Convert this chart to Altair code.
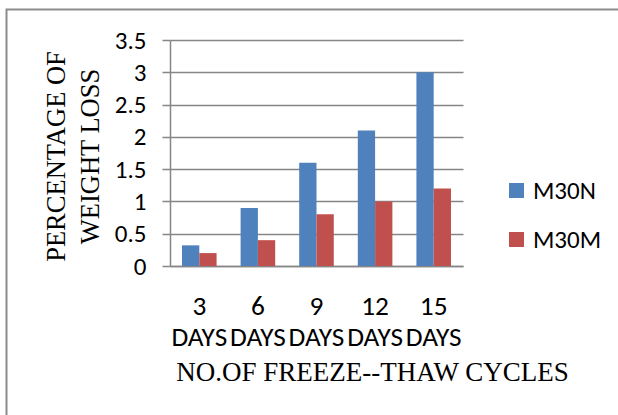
import altair as alt
import pandas as pd

# Freeze-thaw weight loss for two concrete mixes
cycles = ["3", "6", "9", "12", "15"]
m30n = [0.32, 0.9, 1.6, 2.1, 3.0]
m30m = [0.2, 0.4, 0.8, 1.0, 1.2]
series = ["M30N", "M30M"]
y_ticks = [0, 0.5, 1, 1.5, 2, 2.5, 3, 3.5]

rows = []
for i, c in enumerate(cycles):
    rows.append({"cycle": c, "mix": series[0], "loss": m30n[i]})
    rows.append({"cycle": c, "mix": series[1], "loss": m30m[i]})
df = pd.DataFrame(rows)

SANS = "Carlito, Lato, sans-serif"
SERIF = "Liberation Serif, Times New Roman, serif"
GRAY = "#868686"

bars = alt.Chart(df).mark_bar().encode(
    x=alt.X(
        "cycle:N",
        sort=cycles,
        scale=alt.Scale(paddingInner=0.41, paddingOuter=0.205),
        axis=alt.Axis(
            title="NO.OF FREEZE--THAW CYCLES",
            titleFont=SERIF,
            titleFontSize=27,
            titleFontWeight="normal",
            titleColor="#000000",
            titleX=202,
            titleY=114,
            titleAlign="center",
            titleBaseline="alphabetic",
            labelExpr="[datum.label, 'DAYS']",
            labelFont=SANS,
            labelFontSize=27.3,
            labelColor="#000000",
            labelLineHeight=31,
            labelAngle=0,
            labelPadding=26,
            labelOverlap=False,
            ticks=False,
            domain=True,
            domainColor=GRAY,
            domainWidth=1.5,
        ),
    ),
    xOffset=alt.XOffset("mix:N", sort=series),
    y=alt.Y(
        "loss:Q",
        scale=alt.Scale(domain=[0, 3.5], nice=False),
        axis=alt.Axis(
            title=["PERCENTAGE OF", "WEIGHT LOSS"],
            titleFont=SERIF,
            titleFontSize=26.5,
            titleFontWeight="normal",
            titleColor="#000000",
            titleLineHeight=34,
            titleAngle=-90,
            titleX=-106,
            titleY=116,
            titleAlign="center",
            titleBaseline="alphabetic",
            values=y_ticks,
            labelExpr="format(datum.value, '~g')",
            labelFont=SANS,
            labelFontSize=25,
            labelColor="#000000",
            labelPadding=16,
            tickSize=8,
            tickColor=GRAY,
            tickWidth=1.5,
            grid=True,
            gridColor=GRAY,
            gridWidth=1.5,
            domain=True,
            domainColor=GRAY,
            domainWidth=1.5,
        ),
    ),
    color=alt.Color(
        "mix:N",
        sort=series,
        scale=alt.Scale(domain=series, range=["#4F81BD", "#C0504D"]),
        legend=alt.Legend(
            title=None,
            orient="none",
            legendX=334,
            legendY=138,
            symbolType="square",
            symbolSize=225,
            symbolStrokeWidth=0,
            labelFont=SANS,
            labelFontSize=25,
            labelColor="#000000",
            labelOffset=4,
            rowPadding=23,
        ),
    ),
)

frame = alt.Chart(pd.DataFrame({"k": [0]})).mark_rect(
    fill="transparent", stroke="#8c8c8c", strokeWidth=2
).encode(
    x=alt.value(-163.5), x2=alt.value(470), y=alt.value(-30.5), y2=alt.value(400)
)

chart = alt.layer(frame, bars).properties(
    width=293,
    height=226,
    autosize=alt.AutoSizeParams(type="none"),
    padding={"left": 170, "top": 40, "right": 155, "bottom": 149},
    background="#ffffff",
).configure_view(stroke=None)

chart.save("out.html", embed_options={"renderer": "svg", "actions": False})
